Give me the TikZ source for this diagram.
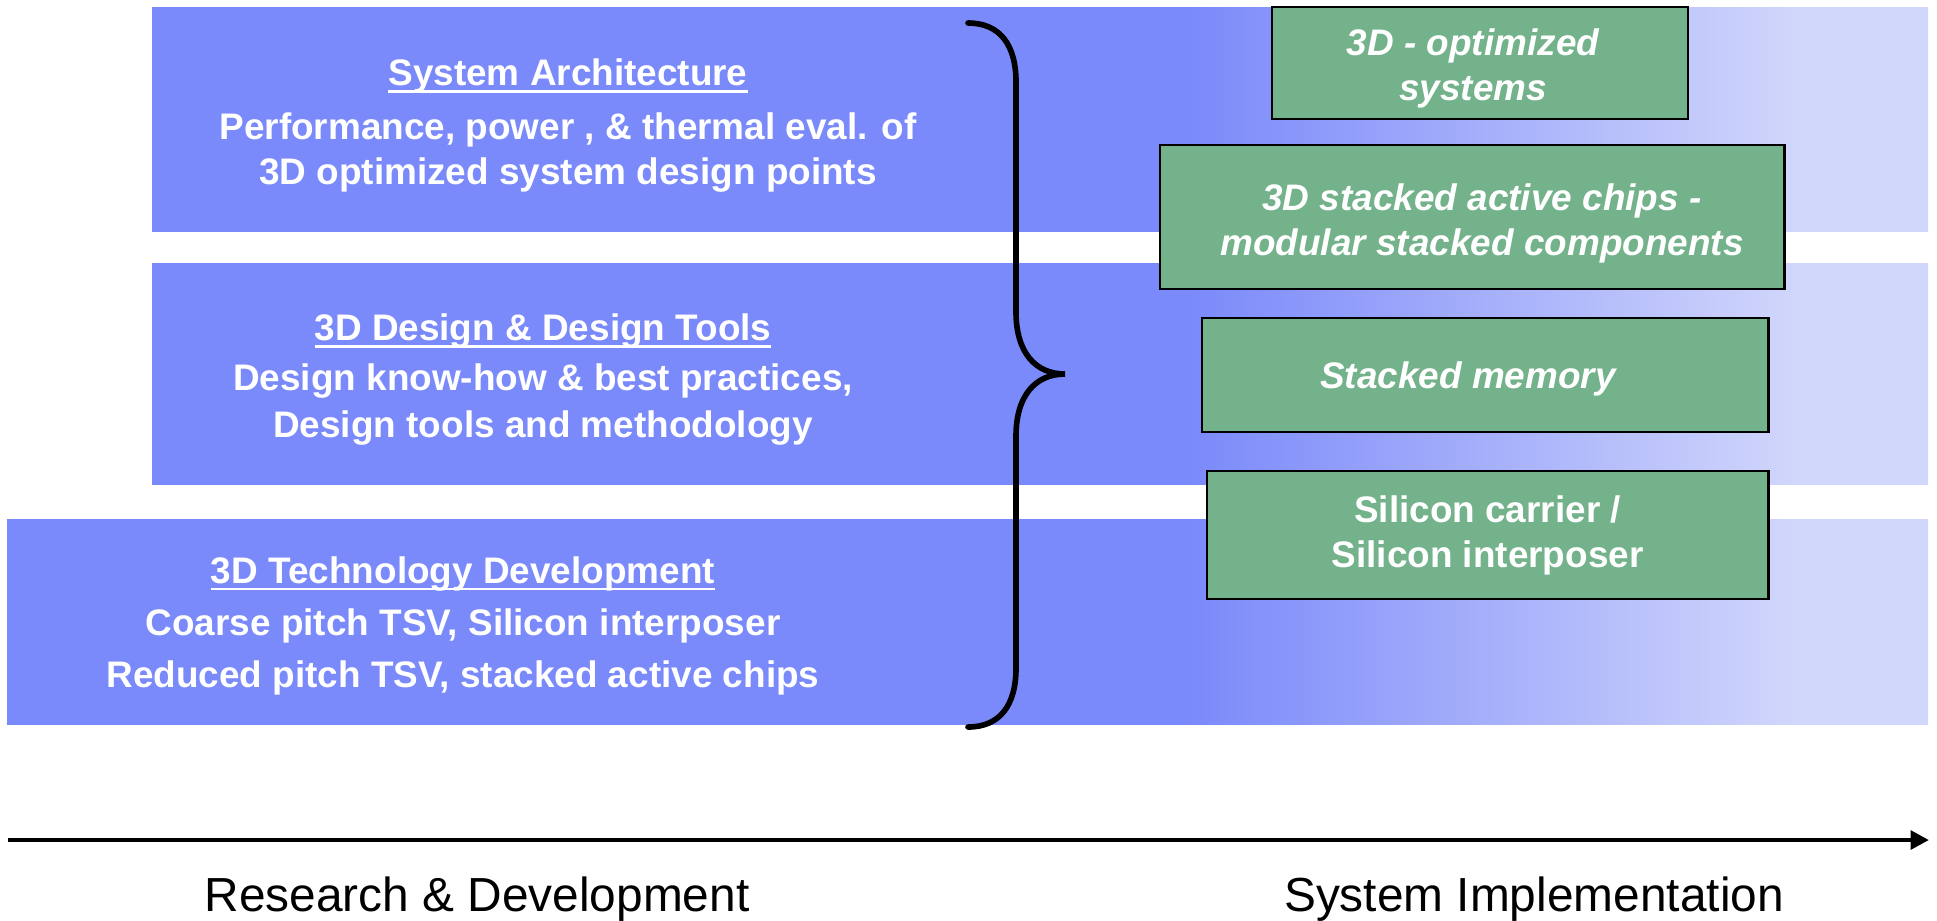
\documentclass[tikz,border=0pt]{standalone}
\usepackage{fontspec}
\setmainfont{Liberation Sans}
\usepackage{xcolor}
\usepackage{tikz}
\usetikzlibrary{arrows.meta, positioning}

\definecolor{bandblue}{RGB}{123,138,250}
\definecolor{bandlight}{RGB}{209,214,251}
\definecolor{boxgreen}{RGB}{115,178,138}

% band fades: solid blue, then blue to light, then light (path spans 25bp..75bp)
\pgfdeclarehorizontalshading{bandfade}{100bp}{color(0bp)=(bandblue); color(54.2bp)=(bandblue); color(71.3bp)=(bandlight); color(100bp)=(bandlight)}
\pgfdeclarehorizontalshading{bandfadewide}{100bp}{color(0bp)=(bandblue); color(55.8bp)=(bandblue); color(71.5bp)=(bandlight); color(100bp)=(bandlight)}

% underlined band heading, rule close under the baseline
\newcommand{\bandtitle}[1]{\setbox0\hbox{#1}\rlap{\vrule width\wd0 height -1.3pt depth 2.1pt}\box0}

\tikzset{
	bandtext/.style={text=white, align=center, font=\fontsize{10.5}{12.8}\selectfont\bfseries},
	greenbox/.style={draw=black, line width=0.75pt, fill=boxgreen, text=white, align=center, inner sep=0pt, font=\fontsize{10.5}{12.8}\selectfont\bfseries\itshape},
	axislabel/.style={font=\fontsize{13.6}{16}\selectfont},
}

\begin{document}
\begin{tikzpicture}[x=0.01cm, y=-0.01cm]
		\useasboundingbox (0,0) rectangle (1937,920);
		% Bands:
		\shade[shading=bandfade] (152,7) rectangle (1928,231);
		\shade[shading=bandfade] (152,263) rectangle (1928,484);
		\shade[shading=bandfadewide] (7,519) rectangle (1928,724);
		\node[bandtext] (sysarch) at (568,125.5) {\bandtitle{System Architecture}\\[2.5pt]
			Performance, power , \& thermal eval. of\\
			3D optimized system design points};
		\node[bandtext] (designtools) at (543,379.5) {\bandtitle{3D Design \& Design Tools}\\[1.4pt]
			Design know-how \& best practices,\\[0.6pt]
			Design tools and methodology};
		\node[bandtext] (techdev) at (463,625.5) {\bandtitle{3D Technology Development}\\[2pt]
			Coarse pitch TSV, Silicon interposer\\[2pt]
			Reduced pitch TSV, stacked active chips};
		% Brace:
		\coordinate (btop) at (968,23);
		\coordinate (btip) at (1065,374);
		\coordinate (bbot) at (968,727);
		\draw[line width=1.6pt, line cap=round] (btop) .. controls (1000,23) and (1016,45) .. (1016,82) -- (1016,312)
			.. controls (1016,352) and (1035,374) .. (btip)
			.. controls (1035,374) and (1016,396) .. (1016,436) -- (1016,668)
			.. controls (1016,705) and (1000,727) .. (bbot);
		% Green boxes:
		\node[greenbox, minimum width=4.16cm, minimum height=1.12cm] (optsys) at (1480,63) {\rule{0pt}{10.6pt}\hspace*{-0.14cm}3D - optimized\\\hspace*{-0.14cm}systems};
		\node[greenbox, minimum width=6.24cm, minimum height=1.44cm] (stackchips) at (1472,217) {\rule{0pt}{11pt}\hspace*{0.2cm}3D stacked active chips -\\\hspace*{0.2cm}modular stacked components};
		\node[greenbox, minimum width=5.66cm, minimum height=1.14cm] (stackmem) at (1485,375) {\rule{0pt}{9.8pt}\hspace*{-0.34cm}Stacked memory};
		\node[greenbox, minimum width=5.61cm, minimum height=1.28cm, font=\fontsize{10.5}{12.8}\selectfont\bfseries] (sicarrier) at (1487.5,535) {Silicon carrier /\\Silicon interposer};
		% Axis:
		\coordinate (tstart) at (8,840);
		\coordinate (tend) at (1929,840);
		\draw[line width=1.35pt, -{Triangle[length=5.2pt, width=5.2pt]}] (tstart) -- (tend);
		\node[axislabel] (rnd) at (477,899) {Research \& Development};
		\node[axislabel] (sysimpl) at (1534,899) {System Implementation};
	\end{tikzpicture}
\end{document}
